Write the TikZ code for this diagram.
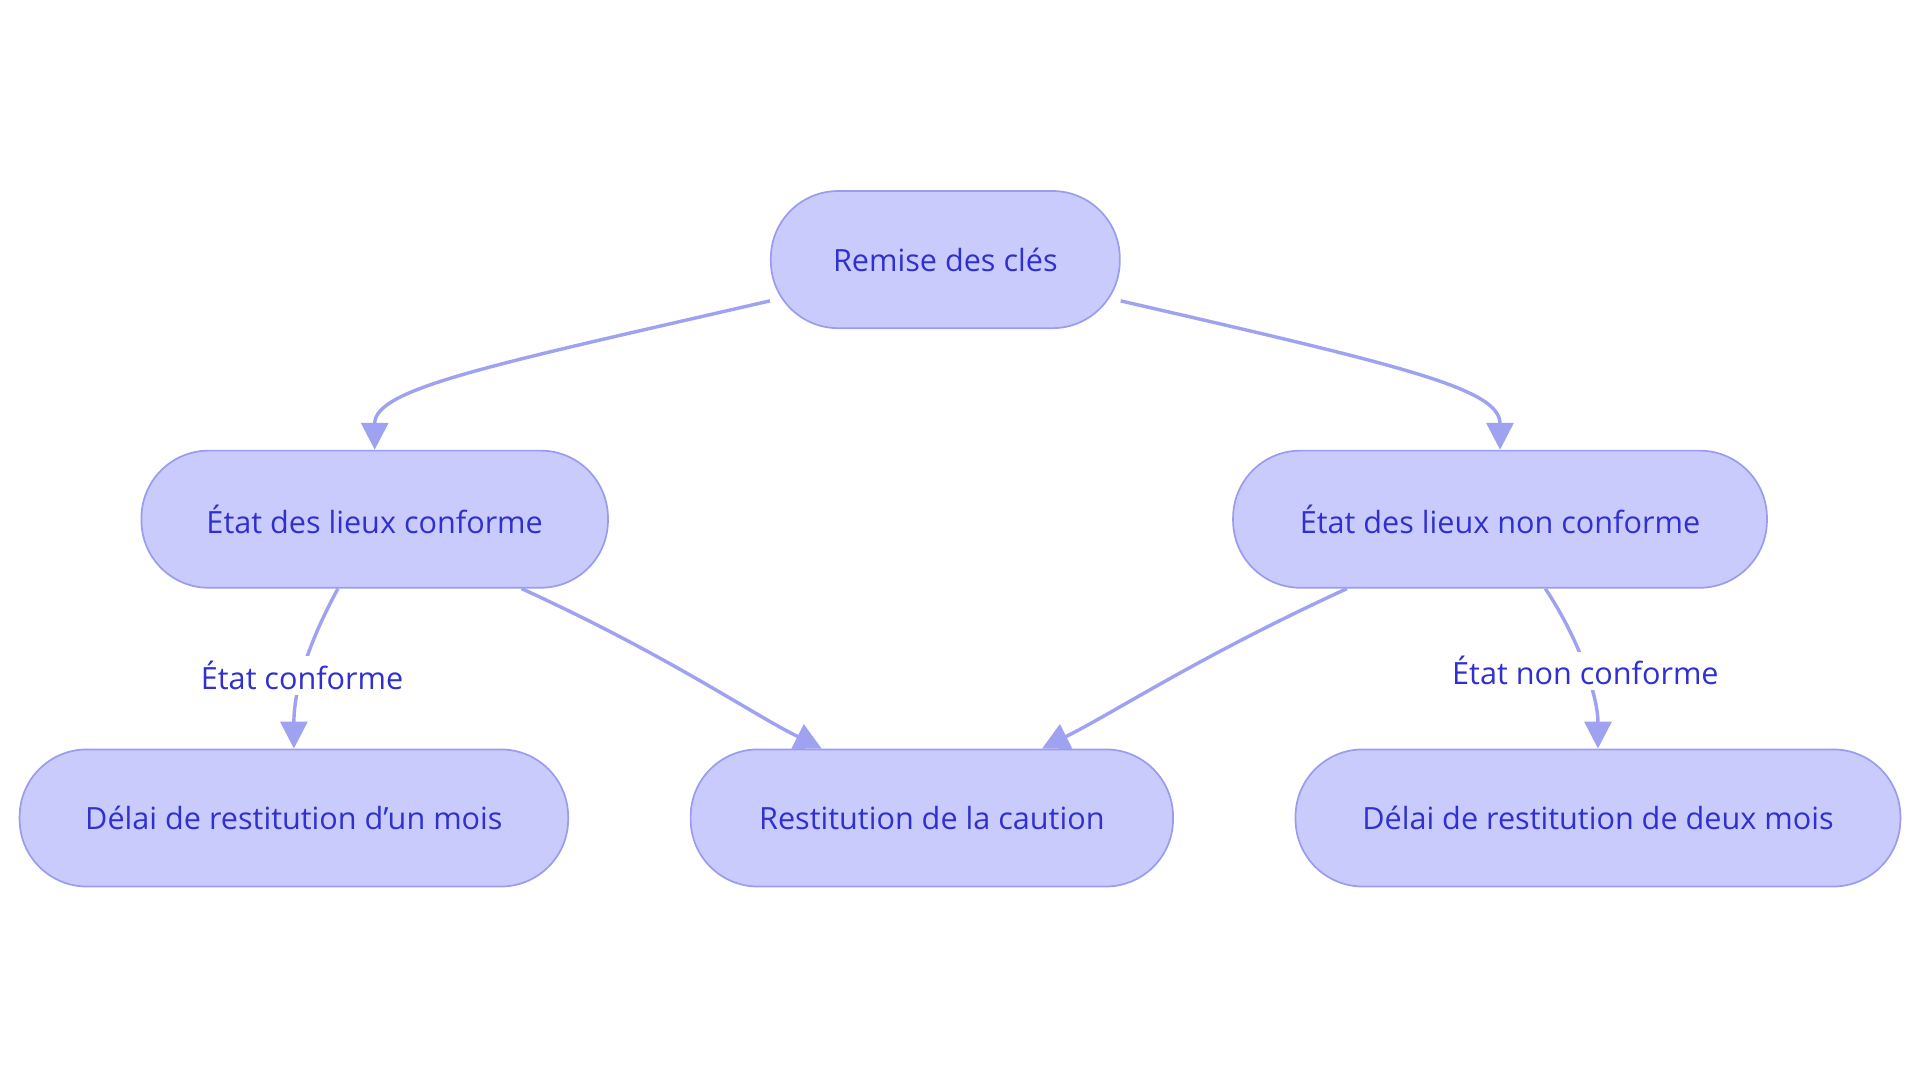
\documentclass[tikz,border=0pt]{standalone}
\usepackage{fontspec}
\setmainfont{Open Sans}
\usetikzlibrary{arrows.meta}
\definecolor{nfill}{HTML}{CACBFD}
\definecolor{ndraw}{HTML}{9A9CEE}
\definecolor{ntext}{HTML}{2F30CF}
\definecolor{edge}{HTML}{9FA2F0}
\begin{document}
\begin{tikzpicture}[x=0.5pt,y=-0.5pt,
  box/.style={draw=ndraw,fill=nfill,line width=0.7pt,rounded corners=27.5pt,minimum height=56pt,text=ntext,font=\fontsize{12.5}{15}\selectfont,inner sep=0pt},
  conn/.style={draw=edge,line width=1.4pt,-{Triangle[length=11pt,width=11pt]}},
  lab/.style={fill=white,text=ntext,font=\fontsize{12.5}{15}\selectfont,inner sep=2pt}]
\useasboundingbox (0,0) rectangle (1568,884);
\node[box,minimum width=142.5pt] (top) at (772,212) {Remise des clés};
\node[box,minimum width=190.5pt] (l) at (306,424) {État des lieux conforme};
\node[box,minimum width=218pt] (r) at (1225,424) {État des lieux non conforme};
\node[box,minimum width=224pt] (b1) at (240,668) {Délai de restitution d'un mois};
\node[box,minimum width=197pt] (b2) at (761,668) {Restitution de la caution};
\node[box,minimum width=247pt] (b3) at (1305,668) {Délai de restitution de deux mois};
\draw[conn] ([yshift=11.5pt]top.south west) .. controls +(-230,53) and +(0,-50) .. (l.north);
\draw[conn] ([yshift=11.5pt]top.south east) .. controls +(230,53) and +(0,-50) .. (r.north);
\draw[conn] ([xshift=-15pt]l.south) .. controls +(-30,55) and +(0,-40) .. (b1.north) node[lab,pos=0.5] {État conforme};
\draw[conn] ([xshift=60pt]l.south) .. controls +(120,55) and +(-60,-30) .. ([xshift=-45pt]b2.north);
\draw[conn] ([xshift=-62.5pt]r.south) .. controls +(-120,55) and +(60,-30) .. ([xshift=45pt]b2.north);
\draw[conn] ([xshift=18.5pt]r.south) .. controls +(30,45) and +(0,-40) .. (b3.north) node[lab,pos=0.5] {État non conforme};
\end{tikzpicture}
\end{document}
